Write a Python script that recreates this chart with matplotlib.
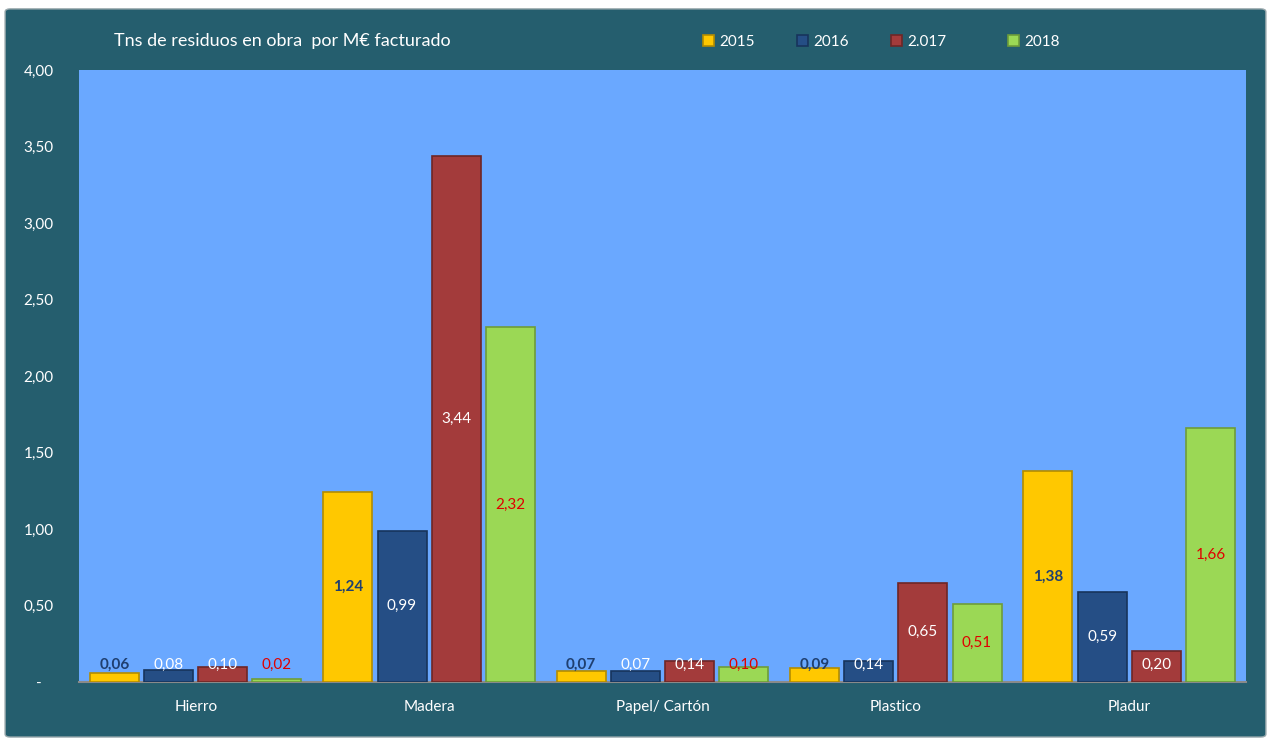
import matplotlib
matplotlib.use("Agg")
import matplotlib.pyplot as plt
import numpy as np
from matplotlib.patches import FancyBboxPatch

plt.rcParams['font.family'] = ['Lato', 'DejaVu Sans']

# data
categories = ['Hierro', 'Madera', 'Papel/ Cartón', 'Plastico', 'Pladur']
series = ['2015', '2016', '2.017', '2018']
v2015 = [0.06, 1.24, 0.07, 0.09, 1.38]
v2016 = [0.08, 0.99, 0.07, 0.14, 0.59]
v2017 = [0.10, 3.44, 0.14, 0.65, 0.20]
v2018 = [0.02, 2.32, 0.10, 0.51, 1.66]
yticks = [0, 0.5, 1, 1.5, 2, 2.5, 3, 3.5, 4]
ytick_labels = ['-', '0,50', '1,00', '1,50', '2,00', '2,50', '3,00', '3,50', '4,00']

colors = ['#FFC800', '#254E85', '#A33B3B', '#9BD855']
edges = ['#B38C00', '#17345C', '#6E2626', '#6E9C3A']
label_colors = ['#1F3F70', 'white', 'white', '#E00000']
label_weights = ['bold', 'normal', 'normal', 'normal']

fig = plt.figure(figsize=(12.71, 7.40), dpi=100)
fig.patch.set_facecolor('white')
panel = FancyBboxPatch((0.004, 0.004), 0.992, 0.984, boxstyle='round,pad=0,rounding_size=0.004',
                       transform=fig.transFigure, facecolor='#255E6E', edgecolor='#9aa9ad',
                       linewidth=1.0, zorder=-5)
fig.patches.append(panel)

ax = fig.add_axes([0.0622, 0.0784, 0.918, 0.827])
ax.set_facecolor('#6AA8FF')

x = np.arange(len(categories))
width = 0.21
step = 0.232
all_vals = [v2015, v2016, v2017, v2018]
handles = []
for i, vals in enumerate(all_vals):
    pos = x + (i - 1.5) * step
    bars = ax.bar(pos, vals, width, color=colors[i], edgecolor=edges[i], linewidth=1.2,
                  label=series[i], zorder=3)
    handles.append(bars)
    for b, v in zip(bars, vals):
        txt = f'{v:.2f}'.replace('.', ',')
        # label centred in bar, but not lower than a minimum height (like excel does)
        yy = max(v / 2, 0.11)
        ax.text(b.get_x() + b.get_width() / 2, yy, txt, ha='center', va='center',
                color=label_colors[i], fontsize=11, fontweight=label_weights[i], zorder=4)

ax.set_xlim(-0.5, len(categories) - 0.5)
ax.set_ylim(0, 4)
ax.set_yticks(yticks)
ax.set_yticklabels(ytick_labels)
ax.set_xticks(x)
ax.set_xticklabels(categories)
ax.tick_params(axis='both', colors='white', labelsize=11, length=0)
ax.tick_params(axis='x', pad=13)
ax.tick_params(axis='y', pad=29)
for lab in ax.get_yticklabels():
    lab.set_horizontalalignment('center')
for s in ['top', 'right', 'left']:
    ax.spines[s].set_visible(False)
ax.spines['bottom'].set_color('#8a8a8a')
ax.spines['bottom'].set_linewidth(1.5)

fig.text(0.09, 0.944, 'Tns de residuos en obra  por M€ facturado', color='white',
         fontsize=13, va='center', ha='left')

# legend entries are spaced unevenly in the original, so one small legend each
leg_x = [0.553, 0.627, 0.701, 0.793]
for h, lab, lx in zip(handles, series, leg_x):
    lg = fig.legend([h], [lab], loc='center left', bbox_to_anchor=(lx, 0.943), frameon=False,
                    handlelength=0.75, handleheight=0.75, handletextpad=0.3,
                    borderpad=0, borderaxespad=0, fontsize=11, labelcolor='white')

fig.savefig('out.png', dpi=100, facecolor=fig.get_facecolor())
